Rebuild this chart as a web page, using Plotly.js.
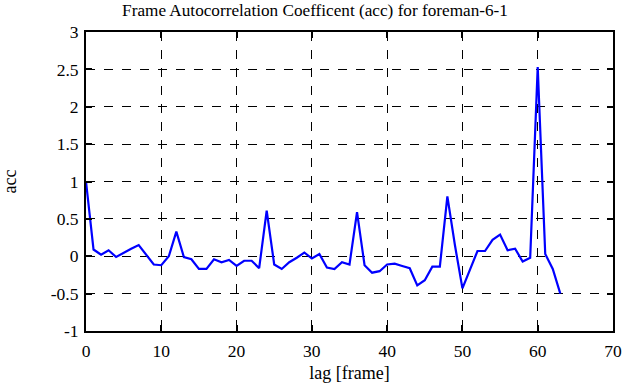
<!DOCTYPE html>
<html><head><meta charset="utf-8">
<script src="https://cdn.plot.ly/plotly-3.0.1.min.js"></script>
<style>body{margin:0;padding:0;background:#fff}#chart{width:630px;height:387px}</style>
</head><body><div id="chart"></div>
<script>
const lags = [];
for (let i = 0; i <= 63; i++) lags.push(i);
const acc = [1.0,0.09,0.02,0.08,-0.01,0.05,0.1,0.15,0.02,-0.11,
  -0.12,0.0,0.33,-0.01,-0.04,-0.17,-0.17,-0.04,-0.08,-0.05,
  -0.13,-0.06,-0.06,-0.16,0.61,-0.11,-0.17,-0.08,-0.02,0.05,
  -0.03,0.03,-0.15,-0.17,-0.08,-0.11,0.59,-0.12,-0.22,-0.2,
  -0.11,-0.1,-0.13,-0.16,-0.39,-0.32,-0.14,-0.14,0.8,0.15,
  -0.43,-0.19,0.07,0.07,0.22,0.29,0.08,0.1,-0.07,-0.02,
  2.53,0.03,-0.17,-0.5];
const xTicks = [0,10,20,30,40,50,60,70];
const yTicks = [-1,-0.5,0,0.5,1,1.5,2,2.5,3];
const yTickText = ["-1","-0.5","0","0.5","1","1.5","2","2.5","3"];
const titleText = "Frame Autocorrelation Coefficent (acc) for foreman-6-1";

const fam = "Liberation Serif, Times New Roman, serif";
const tickFont = {family: fam, color: "#000", size: 17.5};
const labelFont = {family: fam, color: "#000", size: 18};
const titleFont = {family: fam, color: "#000", size: 17.2};
const axisCommon = {
  showline: true, linecolor: "#000", linewidth: 2, mirror: "ticks",
  ticks: "inside", ticklen: 6, tickwidth: 2, tickcolor: "#000",
  showgrid: true, gridcolor: "#000", gridwidth: 1, griddash: "dash",
  zeroline: false, tickfont: tickFont
};
Plotly.newPlot("chart", [{
  x: lags, y: acc, type: "scatter", mode: "lines",
  line: {color: "#0000ff", width: 2.2}
}], {
  width: 630, height: 387,
  margin: {l: 86, r: 17, t: 32, b: 56},
  paper_bgcolor: "#fff", plot_bgcolor: "#fff",
  showlegend: false,
  title: {text: titleText, font: titleFont, x: 0.5, xanchor: "center", y: 0.99, yanchor: "top"},
  xaxis: Object.assign({}, axisCommon, {
    range: [0, 70], tickvals: xTicks, ticktext: xTicks.map(String),
    ticklabelstandoff: 3,
    title: {text: "lag [frame]", font: labelFont, standoff: 6}
  }),
  yaxis: Object.assign({}, axisCommon, {
    range: [-1, 3], tickvals: yTicks, ticktext: yTickText,
    ticklabelstandoff: 2,
    title: {text: "acc", font: labelFont, standoff: 30}
  })
}, {displayModeBar: false, staticPlot: true});
</script></body></html>
